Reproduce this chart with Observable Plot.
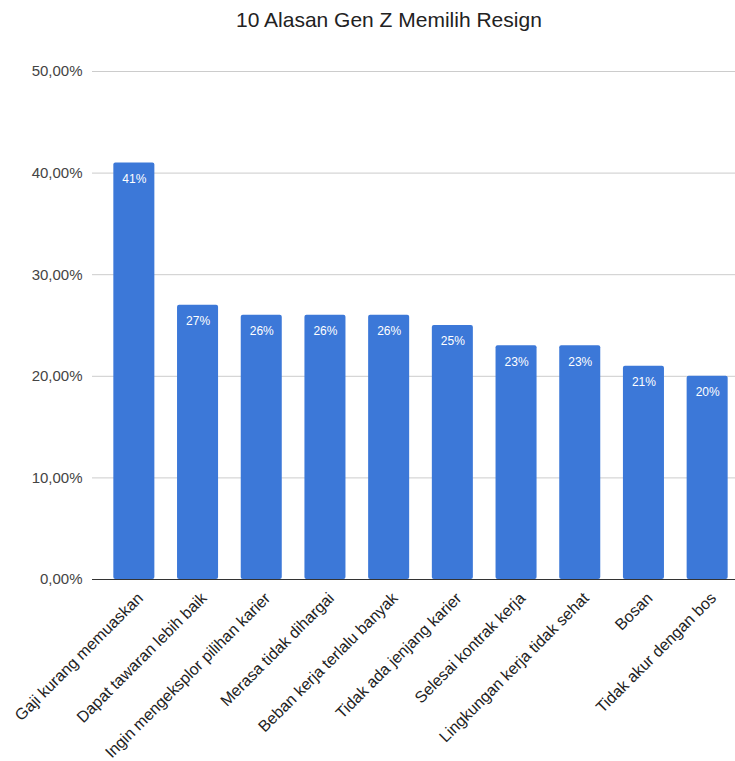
<!DOCTYPE html>
<html>
<head>
<meta charset="utf-8">
<script src="https://cdn.jsdelivr.net/npm/d3@7"></script>
<script src="https://cdn.jsdelivr.net/npm/@observablehq/plot@0.6"></script>
<style>
  body { margin: 0; background: #fff; font-family: "Liberation Sans", Arial, sans-serif; }
  #title { height: 40px; line-height: 40px; font-size: 21px; color: #222; padding-left: 236px; white-space: nowrap; }
</style>
</head>
<body>
<div id="title">10 Alasan Gen Z Memilih Resign</div>
<div id="chart"></div>
<script>
const categories = [
  "Gaji kurang memuaskan",
  "Dapat tawaran lebih baik",
  "Ingin mengeksplor pilihan karier",
  "Merasa tidak dihargai",
  "Beban kerja terlalu banyak",
  "Tidak ada jenjang karier",
  "Selesai kontrak kerja",
  "Lingkungan kerja tidak sehat",
  "Bosan",
  "Tidak akur dengan bos"
];
const values = [41, 27, 26, 26, 26, 25, 23, 23, 21, 20];
const yTicks = [0, 10, 20, 30, 40, 50];

const data = categories.map((c, i) => ({category: c, value: values[i]}));
const fmtAxis = d => d.toFixed(2).replace(".", ",") + "%";

const chart = Plot.plot({
  width: 735,
  height: 721,
  marginTop: 31,
  marginBottom: 182,
  marginLeft: 92,
  marginRight: 0,
  style: {fontFamily: "'Liberation Sans', Arial, sans-serif", background: "#fff"},
  x: {domain: categories, range: [102, 739], round: false, padding: 0.356, paddingOuter: 0.178, label: null},
  y: {domain: [0, 50], label: null},
  marks: [
    Plot.gridY(yTicks, {stroke: "#cccccc", strokeOpacity: 1, strokeWidth: 1}),
    Plot.axisY(yTicks, {tickSize: 0, tickPadding: 10, tickFormat: fmtAxis, fontSize: 15, fill: "#444", label: null}),
    Plot.axisX({tickSize: 0, tickRotate: -45, tickPadding: 14, dx: 6, dy: 2, fontSize: 16, fill: "#222", label: null}),
    Plot.barY(data, {x: "category", y: "value", fill: "#3c78d8", rx: 2}),
    Plot.ruleY([0], {stroke: "#333", strokeWidth: 1}),
    Plot.text(data, {x: "category", y: "value", text: d => d.value + "%", fill: "#fff", dy: 16, fontSize: 12})
  ]
});
document.getElementById("chart").appendChild(chart);
</script>
</body>
</html>
